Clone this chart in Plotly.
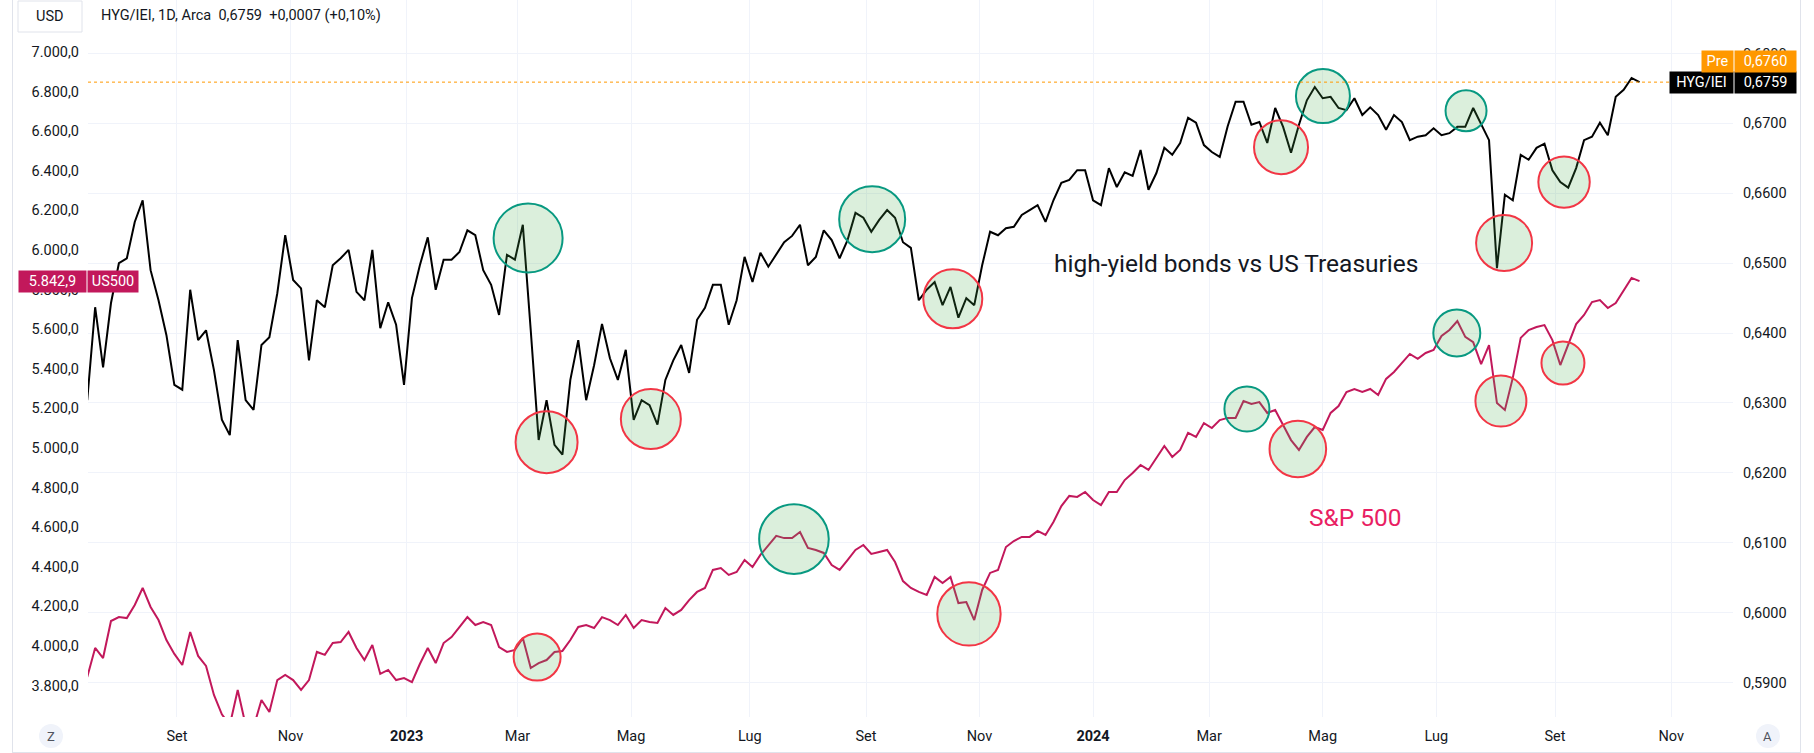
import pandas as pd
import plotly.graph_objects as go

# HYG/IEI ratio, every 3 trading days from 2022-07-15
hyg_iei = [
    0.6304, 0.6437, 0.6351, 0.6443, 0.6500, 0.6507, 0.6559, 0.6590, 0.6490, 0.6447,
    0.6397, 0.6326, 0.6319, 0.6462, 0.6390, 0.6404, 0.6347, 0.6276, 0.6254, 0.6390,
    0.6304, 0.6290, 0.6383, 0.6394, 0.6457, 0.6540, 0.6476, 0.6464, 0.6361, 0.6447,
    0.6437, 0.6497, 0.6507, 0.6519, 0.6459, 0.6447, 0.6519, 0.6407, 0.6444, 0.6412,
    0.6326, 0.6450, 0.6497, 0.6537, 0.6462, 0.6505, 0.6505, 0.6516, 0.6547, 0.6540,
    0.6490, 0.6469, 0.6426, 0.6512, 0.6505, 0.6555, 0.6404, 0.6247, 0.6304, 0.6240,
    0.6226, 0.6333, 0.6390, 0.6304, 0.6354, 0.6413, 0.6364, 0.6333, 0.6376, 0.6276,
    0.6304, 0.6297, 0.6269, 0.6333, 0.6361, 0.6383, 0.6343, 0.6419, 0.6436, 0.6469,
    0.6469, 0.6412, 0.6447, 0.6509, 0.6473, 0.6515, 0.6495, 0.6512, 0.6530, 0.6539,
    0.6555, 0.6497, 0.6509, 0.6547, 0.6533, 0.6507, 0.6533, 0.6572, 0.6565, 0.6545,
    0.6562, 0.6576, 0.6565, 0.6530, 0.6522, 0.6447, 0.6462, 0.6473, 0.6440, 0.6466,
    0.6422, 0.6450, 0.6440, 0.6497, 0.6545, 0.6540, 0.6550, 0.6552, 0.6569, 0.6576,
    0.6583, 0.6559, 0.6590, 0.6615, 0.6619, 0.6633, 0.6633, 0.6590, 0.6583, 0.6636,
    0.6609, 0.6630, 0.6625, 0.6662, 0.6605, 0.6629, 0.6665, 0.6655, 0.6672, 0.6708,
    0.6701, 0.6669, 0.6659, 0.6652, 0.6696, 0.6731, 0.6731, 0.6698, 0.6702, 0.6672,
    0.6722, 0.6695, 0.6658, 0.6698, 0.6733, 0.6752, 0.6736, 0.6738, 0.6722, 0.6719,
    0.6736, 0.6712, 0.6723, 0.6712, 0.6691, 0.6712, 0.6702, 0.6676, 0.6681, 0.6683,
    0.6693, 0.6683, 0.6686, 0.6695, 0.6695, 0.6722, 0.6699, 0.6676, 0.6493, 0.6598,
    0.6590, 0.6655, 0.6648, 0.6665, 0.6671, 0.6633, 0.6616, 0.6608, 0.6636, 0.6676,
    0.6681, 0.6701, 0.6683, 0.6738, 0.6748, 0.6765, 0.6759,
]

# US500 on the same dates
us500 = [
    3843, 3990, 3939, 4126, 4146, 4141, 4207, 4293, 4197, 4131,
    4030, 3960, 3904, 4071, 3950, 3899, 3753, 3655, 3600, 3778,
    3600, 3590, 3727, 3667, 3828, 3854, 3828, 3778, 3828, 3970,
    3955, 4015, 4020, 4071, 3990, 3929, 4005, 3859, 3879, 3828,
    3838, 3818, 3909, 3990, 3914, 4015, 4045, 4096, 4146, 4106,
    4121, 4106, 3995, 3970, 3980, 4040, 3889, 3914, 3929, 3970,
    3975, 4030, 4096, 4106, 4091, 4146, 4131, 4106, 4157, 4091,
    4131, 4121, 4116, 4192, 4157, 4182, 4232, 4273, 4293, 4384,
    4394, 4359, 4374, 4434, 4399, 4460, 4510, 4556, 4545, 4545,
    4576, 4495, 4485, 4470, 4409, 4384, 4434, 4485, 4510, 4465,
    4475, 4485, 4424, 4328, 4293, 4273, 4258, 4349, 4318, 4349,
    4217, 4222, 4131, 4283, 4369, 4384, 4500, 4530, 4551, 4551,
    4581, 4561, 4626, 4707, 4758, 4753, 4778, 4737, 4712, 4778,
    4778, 4838, 4874, 4914, 4889, 4950, 5010, 4955, 4990, 5076,
    5056, 5126, 5101, 5141, 5152, 5152, 5237, 5222, 5232, 5177,
    5192, 5116, 5040, 4990, 5056, 5106, 5091, 5177, 5212, 5283,
    5298, 5283, 5298, 5268, 5349, 5384, 5429, 5475, 5450, 5480,
    5495, 5566, 5596, 5641, 5561, 5535, 5424, 5520, 5227, 5192,
    5354, 5556, 5596, 5611, 5621, 5545, 5419, 5520, 5626, 5672,
    5737, 5747, 5707, 5732, 5793, 5859, 5842.9,
]

dates = pd.bdate_range("2022-07-15", periods=len(hyg_iei), freq="3B")

month_ticks = ["2022-09-01", "2022-11-01", "2023-01-02", "2023-03-01", "2023-05-01",
               "2023-07-03", "2023-09-01", "2023-11-01", "2024-01-01", "2024-03-01",
               "2024-05-01", "2024-07-01", "2024-09-02", "2024-11-01"]
month_labels = ["Set", "Nov", "<b>2023</b>", "Mar", "Mag", "Lug", "Set", "Nov",
                "<b>2024</b>", "Mar", "Mag", "Lug", "Set", "Nov"]

spx_ticks = list(range(3800, 7001, 200))
ratio_ticks = [round(0.59 + 0.01 * k, 2) for k in range(10)]

# hand-drawn circles: (date, value, kind)
ratio_marks = [
    ("2023-03-07", 0.6536, "up"), ("2023-03-16", 0.6244, "down"),
    ("2023-05-10 12:00", 0.6277, "down"), ("2023-09-05 08:00", 0.6563, "up"),
    ("2023-10-17 21:00", 0.6449, "down"), ("2024-04-09 05:00", 0.6666, "down"),
    ("2024-05-01 02:00", 0.6739, "up"), ("2024-07-16 07:00", 0.6718, "up"),
    ("2024-08-05 17:00", 0.6529, "down"), ("2024-09-05 10:00", 0.6616, "down"),
]
ratio_radius = [34.5, 31, 30, 33, 29.5, 27, 27, 20.5, 28, 25.7]
spx_marks = [
    ("2023-03-10 10:00", 3944, "down"), ("2023-07-25 17:00", 4540, "up"),
    ("2023-10-26", 4162, "down"), ("2024-03-21 07:00", 5197, "up"),
    ("2024-04-17 14:00", 4995, "down"), ("2024-07-10 19:00", 5581, "up"),
    ("2024-08-02 12:00", 5237, "down"), ("2024-09-05", 5429, "down"),
]
spx_radius = [23.5, 34.8, 31.7, 22.5, 28.3, 23.5, 25.5, 21.5]

W, H = 1814, 753
L, R, T, B = 88, 1733, 0, 717
FONT = "Roboto, Open Sans, sans-serif"
TXT = "#131722"
GRID = "#f0f3fa"
PINK = "#c2185b"
ORANGE = "#ff9800"
AXIS_SIZE = 14.5


def px(x):
    return (x - L) / (R - L)


def py(y):
    return 1 - (y - T) / (B - T)


fig = go.Figure()
fig.add_trace(go.Scatter(x=dates, y=us500, mode="lines", yaxis="y",
                         line=dict(color=PINK, width=2)))
fig.add_trace(go.Scatter(x=dates, y=hyg_iei, mode="lines", yaxis="y2",
                         line=dict(color="#000000", width=2)))

shapes = []
outline = {"up": "#089981", "down": "#f23645"}
for (d, v, k), r in zip(ratio_marks, ratio_radius):
    shapes.append(dict(type="circle", xref="x", yref="y2", xsizemode="pixel", ysizemode="pixel",
                       xanchor=d, yanchor=v, x0=-r, x1=r, y0=-r, y1=r,
                       line=dict(color=outline[k], width=2), fillcolor="rgba(76,175,80,0.2)",
                       layer="above"))
for (d, v, k), r in zip(spx_marks, spx_radius):
    shapes.append(dict(type="circle", xref="x", yref="y", xsizemode="pixel", ysizemode="pixel",
                       xanchor=d, yanchor=v, x0=-r, x1=r, y0=-r, y1=r,
                       line=dict(color=outline[k], width=2), fillcolor="rgba(76,175,80,0.2)",
                       layer="above"))

# last price line
shapes.append(dict(type="line", xref="paper", yref="y2", x0=0, x1=1,
                   y0=hyg_iei[-1], y1=hyg_iei[-1], line=dict(color=ORANGE, width=1, dash="dot")))

# widget frame
frame = "#e0e3eb"
shapes.append(dict(type="line", xref="paper", yref="paper", x0=px(12.5), x1=px(12.5),
                   y0=py(0), y1=py(752), line=dict(color=frame, width=1)))
shapes.append(dict(type="line", xref="paper", yref="paper", x0=px(1800.5), x1=px(1800.5),
                   y0=py(0), y1=py(752), line=dict(color=frame, width=1)))
shapes.append(dict(type="line", xref="paper", yref="paper", x0=px(12), x1=px(1801),
                   y0=py(752.5), y1=py(752.5), line=dict(color=frame, width=1)))
# USD button
shapes.append(dict(type="rect", xref="paper", yref="paper", x0=px(18), x1=px(82),
                   y0=py(32), y1=py(1), line=dict(color=frame, width=1), fillcolor="white"))
# Z / A buttons
for cx in (51, 1768):
    shapes.append(dict(type="circle", xref="paper", yref="paper", x0=px(cx - 12), x1=px(cx + 12),
                       y0=py(748), y1=py(724), line=dict(width=0), fillcolor=GRID))

ann = []


def tag(text, cx, w, yref, yval, color, yshift=0, size=14.5):
    ann.append(dict(text=text, xref="paper", x=px(cx), xanchor="center", yref=yref, y=yval,
                    yanchor="middle", yshift=yshift, showarrow=False, width=w, height=21,
                    bgcolor=color, borderpad=0, font=dict(family=FONT, size=size, color="white")))


tag("5.842,9", 52.5, 67, "y", us500[-1], PINK)
tag("US500", 113, 50, "y", us500[-1], PINK)
tag("HYG/IEI", 1701.5, 63, "y2", hyg_iei[-1], "#000000")
tag("0,6759", 1765.5, 61, "y2", hyg_iei[-1], "#000000")
tag("Pre", 1717.5, 31, "y2", hyg_iei[-1], ORANGE, yshift=21)
tag("0,6760", 1765.5, 61, "y2", hyg_iei[-1], ORANGE, yshift=21)

ann.append(dict(text="USD", xref="paper", yref="paper", x=px(50), y=py(16.5), xanchor="center",
                yanchor="middle", showarrow=False, font=dict(family=FONT, size=AXIS_SIZE, color=TXT)))
ann.append(dict(text="HYG/IEI, 1D, Arca\u00a0\u00a00,6759\u00a0\u00a0+0,0007 (+0,10%)",
                xref="paper", yref="paper", x=px(99), y=py(15.5), xanchor="left",
                yanchor="middle", showarrow=False, font=dict(family=FONT, size=AXIS_SIZE, color=TXT)))
ann.append(dict(text="high-yield bonds vs US Treasuries", xref="paper", yref="paper",
                x=px(1052), y=py(263), xanchor="left", yanchor="middle", showarrow=False,
                font=dict(family=FONT, size=24.5, color=TXT)))
ann.append(dict(text="S&amp;P 500", xref="paper", yref="paper",
                x=px(1307), y=py(517), xanchor="left", yanchor="middle", showarrow=False,
                font=dict(family=FONT, size=24.5, color="#e91e63")))
for cx, letter in ((51, "Z"), (1768, "A")):
    ann.append(dict(text=letter, xref="paper", yref="paper", x=px(cx), y=py(736),
                    xanchor="center", yanchor="middle", showarrow=False,
                    font=dict(family=FONT, size=13, color="#50535e")))

fig.update_layout(
    width=W, height=H,
    margin=dict(l=L, r=W - R, t=T, b=H - B),
    paper_bgcolor="white", plot_bgcolor="white",
    showlegend=False, hovermode=False,
    separators=",.",
    font=dict(family=FONT, size=AXIS_SIZE, color=TXT),
    xaxis=dict(type="date", range=["2022-07-15 07:00", "2024-12-04 10:00"],
               rangebreaks=[dict(bounds=["sat", "mon"])],
               tickvals=month_ticks, ticktext=month_labels,
               showgrid=True, gridcolor=GRID, gridwidth=1, zeroline=False, showline=False,
               ticks="", ticklabelstandoff=8, tickfont=dict(family=FONT, size=AXIS_SIZE, color=TXT)),
    yaxis=dict(range=[3641.4, 7262.6], tickvals=spx_ticks, tickformat=",.1f",
               showgrid=False, zeroline=False, showline=False, ticks="", side="left",
               ticklabelstandoff=8, tickfont=dict(family=FONT, size=AXIS_SIZE, color=TXT)),
    yaxis2=dict(range=[0.58508, 0.68765], tickvals=ratio_ticks, tickformat=".4f",
                overlaying="y", side="right", showgrid=True, gridcolor=GRID, gridwidth=1,
                zeroline=False, showline=False, ticks="", ticklabelstandoff=9,
                tickfont=dict(family=FONT, size=AXIS_SIZE, color=TXT)),
    shapes=shapes,
    annotations=ann,
)

fig.write_html("out.html", config={"displayModeBar": False},
               post_script="document.body.style.margin='0';document.body.style.padding='0';")
